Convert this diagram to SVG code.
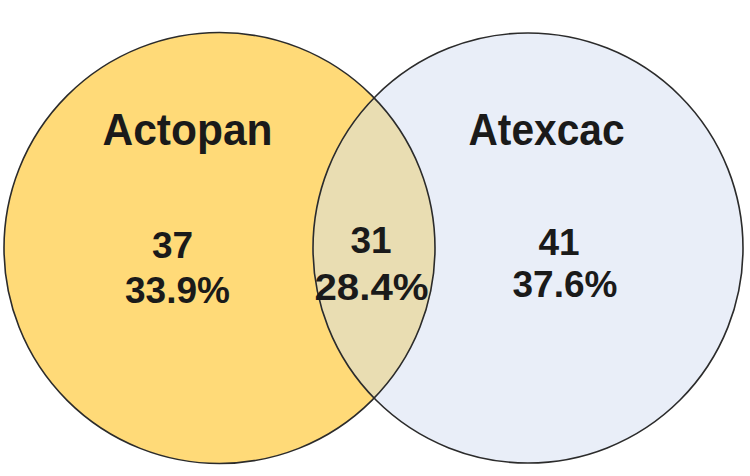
<svg xmlns="http://www.w3.org/2000/svg" width="750" height="476" viewBox="0 0 750 476">
  <style>
    .lbl { font-family: "Liberation Sans", Arial, sans-serif; font-weight: bold; fill: #1a1a1a; text-anchor: middle; }
    .title { font-size: 44px; }
    .num { font-size: 37px; }
    .outline { fill: none; stroke: #2b2b2b; stroke-width: 1.6; }
  </style>
  <rect width="750" height="476" fill="#ffffff"/>
  <g id="actopan">
    <circle cx="219.5" cy="248" r="215.5" fill="#FFDA78"/>
  </g>
  <g id="atexcac">
    <circle cx="528" cy="248" r="215" fill="#E9EEF8"/>
  </g>
  <g id="overlap">
    <path d="M373.75,97.5 A215,215 0 0 0 373.75,398.5 A215.5,215.5 0 0 0 373.75,97.5 Z" fill="#E9DDB2"/>
  </g>
  <g id="outlines">
    <circle class="outline" cx="219.5" cy="248" r="215.5"/>
    <circle class="outline" cx="528" cy="248" r="215"/>
  </g>
  <g id="labels">
    <text class="lbl title" x="187.5" y="145" textLength="170" lengthAdjust="spacingAndGlyphs">Actopan</text>
    <text class="lbl title" x="546.5" y="145" textLength="156" lengthAdjust="spacingAndGlyphs">Atexcac</text>
    <text class="lbl num" x="172.5" y="258">37</text>
    <text class="lbl num" x="177.5" y="303">33.9%</text>
    <text class="lbl num" x="371" y="253">31</text>
    <text class="lbl num" x="371.5" y="300" textLength="114" lengthAdjust="spacingAndGlyphs">28.4%</text>
    <text class="lbl num" x="559" y="255">41</text>
    <text class="lbl num" x="565" y="297">37.6%</text>
  </g>
</svg>
